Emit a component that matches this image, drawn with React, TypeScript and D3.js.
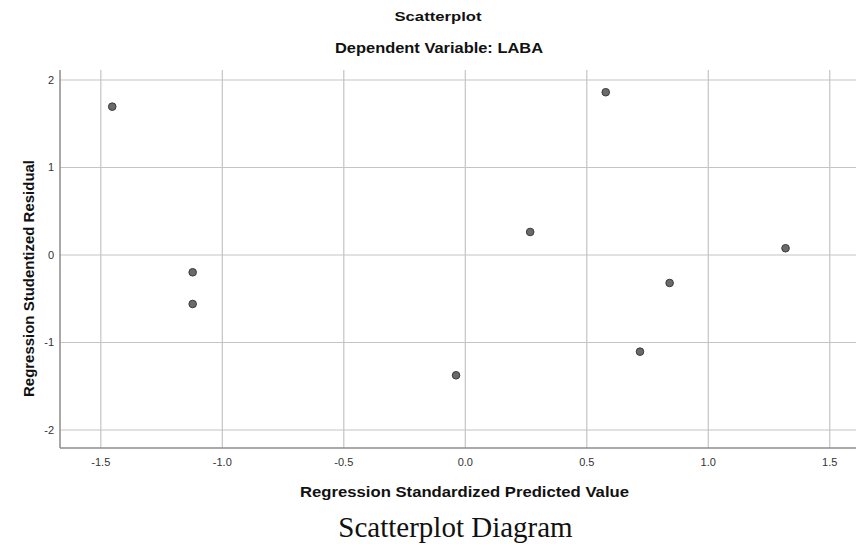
import React, { useEffect, useRef } from 'react';
import * as d3 from 'd3';

// points: standardized predicted value vs studentized residual
const predicted = [-1.453, -1.122, -1.122, 0.578, 0.267, 1.318, 0.841, 0.719, -0.038];
const residual = [1.695, -0.198, -0.56, 1.86, 0.263, 0.077, -0.32, -1.105, -1.375];

const xTicks = [-1.5, -1.0, -0.5, 0.0, 0.5, 1.0, 1.5];
const yTicks = [-2, -1, 0, 1, 2];

const title = 'Scatterplot';
const subtitle = 'Dependent Variable: LABA';
const xLabel = 'Regression Standardized Predicted Value';
const yLabel = 'Regression Studentized Residual';
const caption = 'Scatterplot Diagram';

const W = 857;
const H = 544;

export default function App() {
  const svgRef = useRef<SVGSVGElement>(null);

  useEffect(() => {
    const svg = d3.select(svgRef.current);
    svg.selectAll('*').remove();

    const margins = { top: 70, right: 1, bottom: 96, left: 60 };
    const x = d3.scaleLinear()
      .domain([-1.668, 1.608])
      .range([margins.left, W - margins.right]);
    const y = d3.scaleLinear()
      .domain([-2.206, 2.114])
      .range([H - margins.bottom, margins.top]);

    const font = 'Arial, "Liberation Sans", sans-serif';

    // grid
    const grid = svg.append('g');
    grid.selectAll('line.v')
      .data(xTicks)
      .enter()
      .append('line')
      .attr('x1', d => x(d)).attr('x2', d => x(d))
      .attr('y1', margins.top).attr('y2', H - margins.bottom)
      .attr('stroke', '#c4c4c4')
      .attr('stroke-width', 1.2);
    grid.selectAll('line.h')
      .data(yTicks)
      .enter()
      .append('line')
      .attr('x1', margins.left).attr('x2', W - margins.right)
      .attr('y1', d => y(d)).attr('y2', d => y(d))
      .attr('stroke', '#c4c4c4')
      .attr('stroke-width', 1.2);

    // axes lines
    svg.append('line')
      .attr('x1', margins.left).attr('x2', margins.left)
      .attr('y1', margins.top).attr('y2', H - margins.bottom)
      .attr('stroke', '#8c8c8c').attr('stroke-width', 1.5);
    svg.append('line')
      .attr('x1', margins.left).attr('x2', W - margins.right)
      .attr('y1', H - margins.bottom).attr('y2', H - margins.bottom)
      .attr('stroke', '#8c8c8c').attr('stroke-width', 1.5);

    // tick labels (plain hyphen minus, as in the source)
    svg.selectAll('text.xt')
      .data(xTicks)
      .enter()
      .append('text')
      .attr('x', d => x(d))
      .attr('y', 466)
      .attr('text-anchor', 'middle')
      .attr('font-family', font)
      .attr('font-size', 11)
      .attr('fill', '#333')
      .text(d => d.toFixed(1));
    svg.selectAll('text.yt')
      .data(yTicks)
      .enter()
      .append('text')
      .attr('x', 54)
      .attr('y', d => y(d))
      .attr('dy', '0.35em')
      .attr('text-anchor', 'end')
      .attr('font-family', font)
      .attr('font-size', 11)
      .attr('fill', '#333')
      .text(d => String(d));

    // points
    svg.selectAll('circle')
      .data(predicted.map((p, i) => ({ p, r: residual[i] })))
      .enter()
      .append('circle')
      .attr('cx', d => x(d.p))
      .attr('cy', d => y(d.r))
      .attr('r', 3.8)
      .attr('fill', '#6a6a6a')
      .attr('stroke', '#3a3a3a')
      .attr('stroke-width', 1);

    // titles
    svg.append('text')
      .attr('x', 438).attr('y', 21)
      .attr('text-anchor', 'middle')
      .attr('font-family', font).attr('font-weight', 700).attr('font-size', 13.5)
      .attr('textLength', 87).attr('lengthAdjust', 'spacingAndGlyphs')
      .attr('fill', '#111')
      .text(title);
    svg.append('text')
      .attr('x', 439).attr('y', 53)
      .attr('text-anchor', 'middle')
      .attr('font-family', font).attr('font-weight', 700).attr('font-size', 15)
      .attr('textLength', 208).attr('lengthAdjust', 'spacingAndGlyphs')
      .attr('fill', '#111')
      .text(subtitle);

    svg.append('text')
      .attr('x', 464.5).attr('y', 496.5)
      .attr('text-anchor', 'middle')
      .attr('font-family', font).attr('font-weight', 700).attr('font-size', 15)
      .attr('textLength', 329).attr('lengthAdjust', 'spacingAndGlyphs')
      .attr('fill', '#111')
      .text(xLabel);
    svg.append('text')
      .attr('transform', 'translate(33.5, 278.5) rotate(-90)')
      .attr('text-anchor', 'middle')
      .attr('font-family', font).attr('font-weight', 700).attr('font-size', 15)
      .attr('textLength', 237).attr('lengthAdjust', 'spacingAndGlyphs')
      .attr('fill', '#111')
      .text(yLabel);

    svg.append('text')
      .attr('x', 455.5).attr('y', 537)
      .attr('text-anchor', 'middle')
      .attr('font-family', '"Times New Roman", "Liberation Serif", serif')
      .attr('font-size', 29)
      .attr('fill', '#111')
      .text(caption);
  }, []);

  return (
    <div style={{ position: 'absolute', left: 0, top: 0, width: W, height: H, background: '#fff' }}>
      <svg ref={svgRef} width={W} height={H} style={{ display: 'block' }} />
    </div>
  );
}
